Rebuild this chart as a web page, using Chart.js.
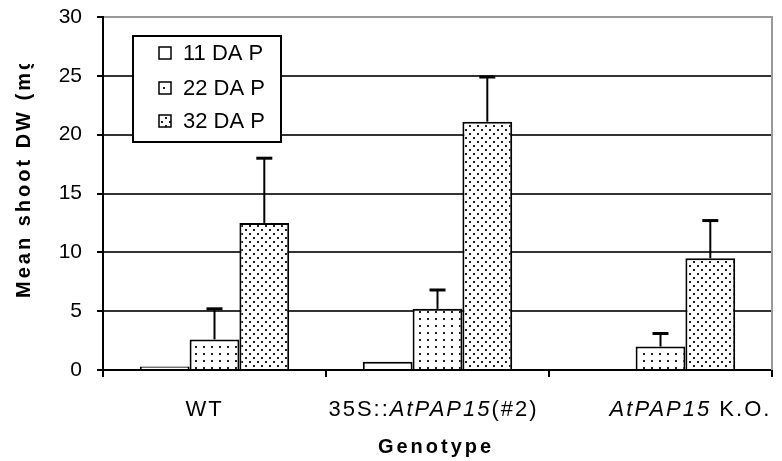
<!DOCTYPE html>
<html lang="en">
<head>
<meta charset="UTF-8">
<title>Mean shoot DW by genotype</title>
<style>
  body { margin: 0; background: #fff; }
  #wrap { width: 782px; height: 461px; }
</style>
</head>
<body>
<div id="wrap"><canvas id="chart"></canvas></div>
<script src="https://cdn.jsdelivr.net/npm/chart.js"></script>
<script>
const genotypes = ['WT', '35S::AtPAP15(#2)', 'AtPAP15 K.O.'];
// tick label pieces, [text, italic]
const genotypeLabelParts = [
    [['WT', false]],
    [['35S::', false], ['AtPAP15', true], ['(#2)', false]],
    [['AtPAP15', true], [' K.O.', false]]
];
const seriesNames = ['11 DA P', '22 DA P', '32 DA P'];
const dap11 = [0.3, 0.7, 0];
const dap22 = [2.6, 5.2, 2.0];
const dap32 = [12.5, 21.1, 9.5];
const err11 = [0, 0, 0];
const err22 = [2.6, 1.6, 1.1];
const err32 = [5.5, 3.8, 3.2];
const yTicks = [0, 5, 10, 15, 20, 25, 30];

function dotPattern(w, h, dots) {
    const c = document.createElement('canvas');
    c.width = w; c.height = h;
    const g = c.getContext('2d');
    g.fillStyle = '#fff';
    g.fillRect(0, 0, w, h);
    g.fillStyle = '#222';
    dots.forEach(d => g.fillRect(d[0], d[1], 2, 2));
    return g.createPattern(c, 'repeat');
}

const fills = [
    '#fff',
    dotPattern(8, 7, [[3, 3]]),
    dotPattern(8, 8, [[1, 1], [5, 5]])
];

// error bars (upper only) on top of the bars
const errBars = {
    id: 'errBars',
    afterDatasetsDraw(chart) {
        const ctx = chart.ctx;
        const y = chart.scales.y;
        ctx.save();
        ctx.strokeStyle = '#000';
        chart.data.datasets.forEach((ds, di) => {
            chart.getDatasetMeta(di).data.forEach((bar, i) => {
                const e = ds.errors[i];
                if (!e) return;
                const yTop = y.getPixelForValue(ds.data[i] + e);
                ctx.lineWidth = 2;
                ctx.beginPath();
                ctx.moveTo(bar.x, bar.y);
                ctx.lineTo(bar.x, yTop);
                ctx.stroke();
                ctx.lineWidth = 3;
                ctx.beginPath();
                ctx.moveTo(bar.x - 8, yTop);
                ctx.lineTo(bar.x + 8, yTop);
                ctx.stroke();
            });
        });
        ctx.restore();
    }
};

// legend box, axis titles, mixed-style x labels, right border
const labelOffsets = [-10, -4, 30];
const decorations = {
    id: 'decorations',
    afterDraw(chart) {
        const ctx = chart.ctx;
        const area = chart.chartArea;
        const x = chart.scales.x;
        ctx.save();

        // right border of plot
        ctx.strokeStyle = '#999';
        ctx.lineWidth = 2;
        ctx.beginPath();
        ctx.moveTo(area.right, area.top - 1);
        ctx.lineTo(area.right, area.bottom);
        ctx.stroke();

        // legend
        ctx.fillStyle = '#fff';
        ctx.fillRect(133, 36, 148, 106);
        ctx.strokeStyle = '#000';
        ctx.lineWidth = 2;
        ctx.strokeRect(133, 36, 148, 106);
        const rows = [53, 88, 121];
        ctx.font = '22px Arial';
        ctx.textBaseline = 'middle';
        ctx.textAlign = 'left';
        seriesNames.forEach((name, i) => {
            ctx.fillStyle = fills[i];
            ctx.fillRect(159, rows[i] - 6, 12, 12);
            ctx.lineWidth = 1.5;
            ctx.strokeStyle = '#000';
            ctx.strokeRect(159, rows[i] - 6, 12, 12);
            ctx.fillStyle = '#000';
            ctx.fillText(name, 183, rows[i] + 1);
        });

        // x tick labels
        ctx.textBaseline = 'alphabetic';
        ctx.letterSpacing = '2px';
        genotypeLabelParts.forEach((parts, i) => {
            let total = 0;
            parts.forEach(p => {
                ctx.font = (p[1] ? 'italic ' : '') + '22px Arial';
                total += ctx.measureText(p[0]).width;
            });
            let cx = x.getPixelForValue(i) + labelOffsets[i] - total / 2;
            parts.forEach(p => {
                ctx.font = (p[1] ? 'italic ' : '') + '22px Arial';
                ctx.fillText(p[0], cx, 416);
                cx += ctx.measureText(p[0]).width;
            });
        });

        // x title
        ctx.font = 'bold 20px Arial';
        ctx.letterSpacing = '3px';
        ctx.textAlign = 'center';
        ctx.fillText('Genotype', 436, 453);

        // y title, clipped at the top like the original
        ctx.beginPath();
        ctx.rect(0, 64, 60, 300);
        ctx.clip();
        ctx.translate(30, 298);
        ctx.rotate(-Math.PI / 2);
        ctx.font = 'bold 20px Arial';
        ctx.letterSpacing = '3px';
        ctx.textAlign = 'left';
        ctx.fillText('Mean shoot DW (mg)', 0, 0);

        ctx.restore();
    }
};

const seriesData = [dap11, dap22, dap32];
const seriesErr = [err11, err22, err32];

new Chart(document.getElementById('chart'), {
    type: 'bar',
    data: {
        labels: genotypes,
        datasets: seriesNames.map((name, i) => ({
            label: name,
            data: seriesData[i],
            errors: seriesErr[i],
            backgroundColor: fills[i],
            borderColor: '#000',
            borderWidth: 2,
            barPercentage: 1,
            categoryPercentage: 0.67
        }))
    },
    options: {
        responsive: true,
        maintainAspectRatio: false,
        animation: false,
        layout: { padding: { top: 17, right: 10, left: 0, bottom: 0 } },
        plugins: {
            legend: { display: false },
            tooltip: { enabled: false }
        },
        scales: {
            x: {
                grid: {
                    drawOnChartArea: false,
                    offset: true,
                    tickLength: 7,
                    tickColor: '#000',
                    lineWidth: 2
                },
                border: { color: '#000', width: 2 },
                ticks: { display: false },
                afterFit: s => { s.height = 91; }
            },
            y: {
                min: 0,
                max: 30,
                afterBuildTicks: s => { s.ticks = yTicks.map(v => ({ value: v })); },
                grid: {
                    color: c => c.tick.value === 30 ? '#999' : '#333',
                    tickColor: '#000',
                    tickLength: 6,
                    lineWidth: 2
                },
                border: { color: '#000', width: 2 },
                ticks: {
                    color: '#000',
                    padding: 15,
                    font: { family: 'Arial', size: 21, lineHeight: 0.5 }
                },
                afterFit: s => {
                    s.width = 103;
                    s.paddingTop = 0;
                    s.paddingBottom = 0;
                }
            }
        }
    },
    plugins: [errBars, decorations]
});
</script>
</body>
</html>
